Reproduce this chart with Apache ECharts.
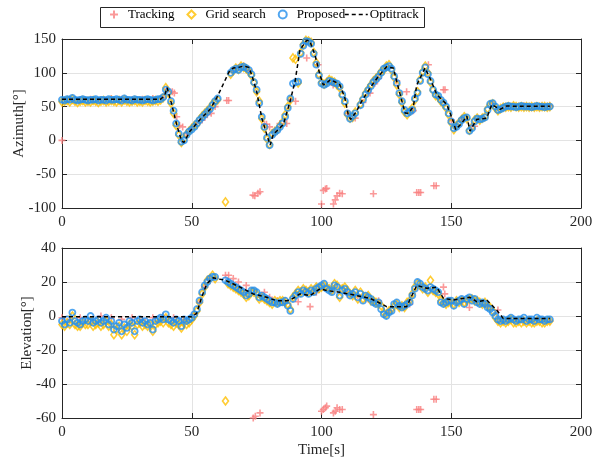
<!DOCTYPE html>
<html>
<head>
<meta charset="utf-8">
<script src="https://cdn.jsdelivr.net/npm/echarts@6/dist/echarts.min.js"></script>
<style>html,body{margin:0;padding:0;background:#fff}#c{width:605px;height:464px}</style>
</head>
<body>
<div id="c"></div>
<script>
// ---- data ----
const seriesNames = ['Tracking', 'Grid search', 'Proposed', 'Optitrack'];
const xTicks = [0, 50, 100, 150, 200];
const azTicks = [-100, -50, 0, 50, 100, 150];
const elTicks = [-60, -40, -20, 0, 20, 40];

// sample times [s] for Proposed / Grid search
const times = [0,1,2,3,4,5,6,7,8,9,10,11,12,13,14,15,16,17,18,19,20,21,22,23,24,25,26,27,28,29,30,31,32,33,34,35,36,37,38,39,40,41,42,43,44,45,46,47,48,49,50,51,52,53,54,55,56,57,58,59,60,61,62,63,64,65,66,67,68,69,70,71,72,73,74,75,76,77,78,79,80,81,82,83,84,85,86,87,88,89,90,91,92,93,94,95,96,97,98,99,100,101,102,103,104,105,106,107,108,109,110,111,112,113,114,115,116,117,118,119,120,121,122,123,124,125,126,127,128,129,130,131,132,133,134,135,136,137,138,139,140,141,142,143,144,145,146,147,148,149,150,151,152,153,154,155,156,157,158,159,160,161,162,163,164,165,166,167,168,169,170,171,172,173,174,175,176,177,178,179,180,181,182,183,184,185,186,187,188];

const proposedAz = [
60,59,61,60,63,60,59,60,61,60,
59,60,60,61,59,60,60,59,61,60,
60,61,60,59,62,60,60,59,61,60,
60,59,60,61,60,59,60,61,61,64,
75,72,58,44,25,10,-2,0,8,13,
16,20,25,30,34,38,42,46,52,58,
62,null,null,null,null,100,104,106,104,108,
109,107,104,98,86,75,55,35,20,4,
-7,8,12,15,20,25,35,48,62,84,
86,87,128,140,147,146,143,128,112,96,
84,82,84,88,87,85,84,80,68,58,
40,32,36,40,null,52,60,68,74,80,
86,90,94,100,106,108,110,106,95,85,
70,58,45,40,42,45,62,70,88,100,
108,98,88,75,68,66,60,56,50,40,
28,18,20,24,30,33,34,14,18,28,
32,31,32,34,45,54,55,50,45,46,
48,50,51,50,50,49,50,51,50,50,
50,49,50,51,50,50,49,50,50];

const gridAz = [
57,58,59,57,61,58,56,58,59,57,
58,57,59,58,56,58,59,57,58,59,
58,57,59,57,60,58,57,58,59,57,
58,57,59,58,57,58,59,58,60,63,
78,70,55,40,22,8,-3,2,9,14,
18,22,24,31,36,40,44,48,54,57,
60,null,null,-91,null,98,103,107,105,110,
108,106,102,96,85,72,58,32,18,2,
-6,10,13,16,22,27,38,50,60,122,
120,85,130,142,148,147,145,130,115,98,
86,83,86,90,88,86,82,78,66,55,
38,33,34,42,null,54,62,70,76,82,
88,92,96,102,104,110,112,104,93,82,
68,56,42,38,43,48,60,72,90,102,
110,100,86,74,66,64,58,54,48,38,
26,16,22,26,31,35,32,15,20,30,
33,30,33,35,47,53,54,48,44,47,
49,49,50,49,51,50,49,50,49,50,
49,50,49,50,49,50,50,49,50];

const proposedEl = [
-3,-5,-2,-4,2,-3,-4,-5,-3,-2,
-3,0,-4,-3,-2,-4,-3,-1,-5,-3,
-8,-6,-4,-9,-5,-7,-3,-4,-9,-3,
-2,-4,-3,-5,-4,-8,-3,-2,-1,-2,
1,-2,-3,-4,-2,-3,-6,-2,-3,-2,
-1,1,4,9,14,18,20,22,23,23,
null,null,null,21,20,19,18,17,16,15,
14,12,13,15,15,14,11,12,11,10,
9,8,8,7,8,8,9,6,3,10,
12,14,13,15,14,13,15,14,16,17,
18,19,16,15,14,18,17,12,15,16,
14,12,13,14,11,13,9,12,11,10,
8,7,8,4,1,0,2,3,7,8,
6,5,6,7,8,12,16,20,19,17,
16,15,17,16,15,14,8,7,8,9,
9,6,8,9,10,7,10,11,9,10,
8,7,8,7,5,4,2,0,-2,-3,
-2,-3,-2,-1,-2,-3,-2,-2,-1,-3,
-2,-2,-3,-1,-2,-2,-3,-2,-2];

const gridEl = [
-5,-6,-4,-5,0,-5,-6,-6,-4,-5,
-5,-3,-6,-5,-4,-6,-5,-3,-6,-5,
-11,-8,-6,-11,-7,-9,-5,-6,-11,-5,
-4,-6,-5,-6,-5,-9,-5,-4,-3,-4,
-1,-4,-5,-6,-4,-5,-7,-4,-5,-4,
-2,0,3,8,13,17,21,22,24,22,
null,null,null,-50,19,18,17,16,15,14,
13,11,12,14,14,13,10,11,10,9,
8,7,9,8,9,9,8,7,4,11,
13,15,14,16,15,14,16,15,17,16,
17,18,17,16,15,19,18,11,16,17,
15,13,12,15,10,14,10,11,12,9,
9,8,7,6,2,1,3,4,6,7,
5,6,5,8,9,13,17,19,18,16,
17,14,21,15,14,13,9,8,7,8,
8,7,9,8,9,8,9,10,10,9,
9,8,7,8,6,5,3,-1,-3,-4,
-3,-4,-3,-2,-4,-4,-3,-4,-3,-4,
-3,-4,-4,-3,-3,-4,-4,-3,-3];

// Tracking estimates [time, value]
const trackingAz = [[0,0],[3,61],[7,60],[11,61],[15,60],[19,62],[23,61],[27,60],[31,61],[35,62],[39,63],[40.5,76],[42.5,72],[43.3,70],[44.2,35],[45.3,22],[46.5,20],[48,10],[50,18],[52,26],[54,30],[56,38],[57.5,40],[59,50],[63.5,59],[64.2,59],[66,102],[68,108],[70,110],[72,104],[73.6,-81],[74.3,-82],[75.5,-78],[76.3,-76],[78,24],[78.8,24],[80,20],[82,15],[84,25],[86.6,25],[88,60],[90,58],[94.3,122],[98.7,112],[100,-94],[100.7,-74],[101.5,-72],[102,-71],[104.5,82],[104.6,-94],[105.3,-88],[106,-82],[107,-78],[108,-79],[110,40],[113,33],[116,56],[118.7,70],[120,-79],[120.5,84],[122,92],[126,108],[129,88],[132.8,72],[135.4,44],[136.7,-77],[137.5,-77],[138.2,-77],[141.2,112],[143.3,-67],[144.2,-67],[147,75],[147.6,75],[150,30],[154,32],[157.9,21],[159,21],[162,33],[166,54],[170,49],[174,50],[178,51],[182,50],[186,50],[188,51]];
const trackingEl = [[0,-1],[3,-2],[7,-1],[11,-2],[15,0],[19,-1],[23,-2],[27,-1],[31,-2],[35,-1],[39,0],[43,-1],[47,-2],[51,1],[53,8],[55,17],[57,21],[63,24],[64.2,24],[66,22],[68,20],[71,18],[73.7,-60],[74.5,-59],[76.3,-57],[78,14],[80,11],[83,9],[86,9],[91,8.4],[95.6,5.5],[98,14],[100,-56],[100.7,-55],[101.5,-54],[102,-53],[104.6,-57],[105.3,-56],[106,-54],[107,-55],[108,-55],[110,13],[114,12],[118,10],[120,-58],[122,9],[126,3],[130,6],[134,7],[136.7,-55],[137.5,-55],[138.2,-55],[140,16],[143.3,-49],[144.2,-49],[147,17],[147.5,13],[150,8],[154,9],[157,5],[160,9],[164,6],[168,3.5],[172,-2],[176,-2],[180,-2],[184,-2],[188,-3]];

// Optitrack ground truth [time, value]
const optitrackAz = [[0,61],[10,61],[20,61],[30,61],[38,61],[39.5,66],[40.5,78],[42.3,53],[44.2,23],[46.1,-1],[47,-3],[49.3,13.7],[53.2,31],[57,45.6],[59.6,62.7],[64.7,104],[66,107],[68,108],[70,110],[72,108],[73.1,97],[75,72.5],[77,33],[78.9,8.8],[80.2,-7],[81.4,8.8],[85.3,23.5],[87.9,58],[89.8,87],[91.1,119],[91.7,134],[94.3,148],[95.5,147],[97.5,126],[99.4,97],[100.7,82],[102,85],[103.5,90],[105.5,86],[107.1,82],[109,63],[110.3,38],[111.2,31],[113.5,43],[115.5,58],[118.7,77.5],[121.9,94.6],[125.1,109],[127.7,107],[129,87],[130.3,68],[132.2,40.7],[133.5,40],[135.4,50],[136.7,82],[139.9,107],[141.8,92],[144.4,68],[148.3,53],[150.8,28],[151.7,16],[154,25],[156,36],[157.2,13.7],[159.8,31],[163.7,33],[165.6,53],[168.8,46],[171.4,51],[175,50.5],[180,50.5],[188,50.5]];
const optitrackEl = [[0,-0.5],[10,-0.5],[20,-0.5],[30,-0.5],[40,-0.5],[50,-0.5],[51.9,1.6],[53.8,11],[55.8,19],[58.3,22.5],[59.5,22],[63,21],[68.6,17],[73.7,13],[78.9,11],[82.7,9],[86.6,9],[88,9.4],[91.7,13],[95.6,12],[99.4,16],[102,15],[107.1,14],[113.6,12],[118.7,10.4],[122.6,7.5],[125.1,5.5],[132.8,5.5],[136.7,18],[140.6,16.3],[144.4,17],[147,10.4],[150.8,9.4],[157.2,11],[159.8,8.4],[163.7,9.4],[167.5,3.5],[170,-1.4],[188,-1.4]];

// ---- styling ----
const FONT = '"Liberation Serif", "DejaVu Serif", serif';
const AX = '#262626';
const RED = '#F98080';
const YEL = '#FFBF00';
const BLU = '#2590EC';

function pair(ts, vs) { return ts.map((t, i) => [t, vs[i]]); }

function xAx(grid, pos, showLabel, name) {
  return {
    type: 'value', gridIndex: grid, position: pos, min: xTicks[0], max: xTicks[xTicks.length - 1],
    interval: xTicks[1] - xTicks[0],
    axisLine: { show: true, onZero: false, lineStyle: { color: AX, width: 1 } },
    axisTick: { show: true, inside: true, length: 5, lineStyle: { color: AX } },
    axisLabel: { show: showLabel, margin: 7, color: AX, fontFamily: FONT, fontSize: 15 },
    splitLine: { show: pos === 'bottom', lineStyle: { color: '#e3e3e3', width: 1 } },
    name: name || '', nameLocation: 'middle', nameGap: 25, nameMoveOverlap: false,
    nameTextStyle: { color: AX, fontFamily: FONT, fontSize: 15 }
  };
}
function yAx(grid, pos, ticks, showLabel, name, gap) {
  return {
    type: 'value', gridIndex: grid, position: pos, min: ticks[0], max: ticks[ticks.length - 1],
    interval: ticks[1] - ticks[0],
    axisLine: { show: true, onZero: false, lineStyle: { color: AX, width: 1 } },
    axisTick: { show: true, inside: true, length: 5, lineStyle: { color: AX } },
    axisLabel: { show: showLabel, margin: 6, color: AX, fontFamily: FONT, fontSize: 15 },
    splitLine: { show: pos === 'left', lineStyle: { color: '#e3e3e3', width: 1 } },
    name: name || '', nameLocation: 'middle', nameGap: gap || 30, nameMoveOverlap: false,
    nameTextStyle: { color: AX, fontFamily: FONT, fontSize: 15 }
  };
}

function scatterSet(xi, yi, track, grid, prop, opt) {
  return [
    { name: seriesNames[0], type: 'scatter', xAxisIndex: xi, yAxisIndex: yi, data: track,
      symbol: 'path://M5,0L5,10M0,5L10,5', symbolSize: 7,
      itemStyle: { color: 'rgba(0,0,0,0)', borderColor: RED, borderWidth: 1.6 } },
    { name: seriesNames[1], type: 'scatter', xAxisIndex: xi, yAxisIndex: yi, data: grid,
      symbol: 'diamond', symbolSize: [6, 8],
      itemStyle: { color: 'rgba(0,0,0,0)', borderColor: YEL, borderWidth: 1.6 } },
    { name: seriesNames[2], type: 'scatter', xAxisIndex: xi, yAxisIndex: yi, data: prop,
      symbol: 'circle', symbolSize: 6,
      itemStyle: { color: 'rgba(0,0,0,0)', borderColor: BLU, borderWidth: 1.8 } },
    { name: seriesNames[3], type: 'line', xAxisIndex: xi, yAxisIndex: yi, data: opt,
      symbol: 'none', showSymbol: false, itemStyle: { color: '#000' },
      lineStyle: { color: '#000', width: 1.5, type: [4, 3] }, z: 5 }
  ];
}

const legText = { fontFamily: FONT, fontSize: 13, color: '#000', padding: [0, 0, 0, 5] };
const chart = echarts.init(document.getElementById('c'), null, { renderer: 'canvas' });
chart.setOption({
  animation: false,
  backgroundColor: '#fff',
  graphic: [{ type: 'rect', left: 98, top: 5, shape: { width: 324, height: 20 },
              style: { fill: 'none', stroke: AX, lineWidth: 1 }, z: 100 }],
  legend: [
    { data: seriesNames.slice(0, 3), left: 109, top: 8, padding: 0, itemGap: 12,
      itemWidth: 8, itemHeight: 8, textStyle: legText },
    { data: seriesNames.slice(3), left: 344, top: 8, padding: 0,
      itemWidth: 23, itemHeight: 8,
      itemStyle: { color: 'rgba(0,0,0,0)', borderWidth: 0, opacity: 0 },
      lineStyle: { color: '#000', width: 1.5, type: [4, 3] },
      textStyle: { fontFamily: FONT, fontSize: 13, color: '#000', padding: [0, 0, 0, -3] } }
  ],
  grid: [
    { left: 62, right: 24, top: 39, height: 169 },
    { left: 62, right: 24, top: 248, height: 170 }
  ],
  xAxis: [xAx(0, 'bottom', true), xAx(0, 'top', false), xAx(1, 'bottom', true, 'Time[s]'), xAx(1, 'top', false)],
  yAxis: [yAx(0, 'left', azTicks, true, 'Azimuth[°]', 35), yAx(0, 'right', azTicks, false),
          yAx(1, 'left', elTicks, true, 'Elevation[°]', 27), yAx(1, 'right', elTicks, false)],
  series: [].concat(
    scatterSet(0, 0, trackingAz, pair(times, gridAz), pair(times, proposedAz), optitrackAz),
    scatterSet(2, 2, trackingEl, pair(times, gridEl), pair(times, proposedEl), optitrackEl)
  )
});
</script>
</body>
</html>
